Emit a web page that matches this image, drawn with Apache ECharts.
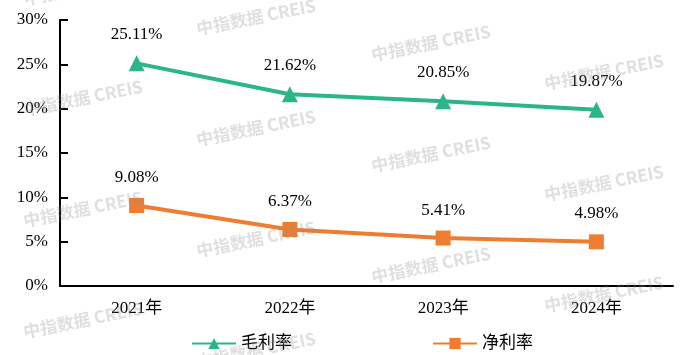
<!DOCTYPE html>
<html>
<head>
<meta charset="utf-8">
<script src="https://cdn.jsdelivr.net/npm/echarts@6/dist/echarts.min.js"></script>
<style>
  html, body { margin: 0; padding: 0; background: #fff; }
  #main { width: 682px; height: 355px; }
</style>
</head>
<body>
<div id="main"></div>
<script>
var years = ["2021年", "2022年", "2023年", "2024年"];
var grossMargin = [25.11, 21.62, 20.85, 19.87];
var netMargin = [9.08, 6.37, 5.41, 4.98];

var serif = "'Liberation Serif', 'Times New Roman', 'Noto Sans CJK SC', serif";

// 水印 中指数据 CREIS
var marks = [];
var colX = [83, 256, 431, 604];
var colY0 = [-13, 17, 43, 72];
for (var c = 0; c < colX.length; c++) {
  for (var r = 0; r < 4; r++) {
    marks.push({
      type: "text",
      x: colX[c],
      y: colY0[c] + r * 111,
      rotation: 0.2,
      z: 100,
      silent: true,
      style: {
        text: "中指数据 CREIS",
        font: "bold 17px 'Noto Sans CJK SC', sans-serif",
        fill: "rgba(140,140,140,0.28)",
        align: "center",
        verticalAlign: "middle"
      }
    });
  }
}

var myChart = echarts.init(document.getElementById("main"));
var option = {
  animation: false,
  grid: { left: 60, right: 9, top: 20, bottom: 69 },
  legend: {
    left: 186,
    top: 330,
    itemWidth: 44,
    itemHeight: 14,
    itemGap: 140,
    textStyle: { fontFamily: serif, fontSize: 17, color: "#000" },
    data: ["毛利率", "净利率"]
  },
  xAxis: {
    type: "category",
    data: years,
    axisLine: { lineStyle: { color: "#000", width: 2 } },
    axisTick: { inside: true, length: 6, lineStyle: { color: "#000", width: 2 } },
    axisLabel: { margin: 14, fontFamily: serif, fontSize: 17, color: "#000" }
  },
  yAxis: {
    type: "value",
    min: 0,
    max: 30,
    interval: 5,
    splitLine: { show: false },
    axisLine: { show: true, lineStyle: { color: "#000", width: 2 } },
    axisTick: { show: true, inside: true, length: 8, lineStyle: { color: "#000", width: 2 } },
    axisLabel: { margin: 12, fontFamily: serif, fontSize: 17, color: "#000", formatter: "{value}%" }
  },
  series: [
    {
      name: "毛利率",
      type: "line",
      data: grossMargin,
      symbol: "triangle",
      symbolSize: 16,
      color: "#2bb58a",
      lineStyle: { width: 4 },
      label: {
        show: true, position: "top", distance: 12,
        fontFamily: serif, fontSize: 17, color: "#000",
        formatter: function (p) { return p.value.toFixed(2) + "%"; }
      }
    },
    {
      name: "净利率",
      type: "line",
      data: netMargin,
      symbol: "rect",
      symbolSize: 15,
      color: "#ed7d31",
      lineStyle: { width: 4 },
      label: {
        show: true, position: "top", distance: 12,
        fontFamily: serif, fontSize: 17, color: "#000",
        formatter: function (p) { return p.value.toFixed(2) + "%"; }
      }
    }
  ],
  graphic: marks
};
myChart.setOption(option);
</script>
</body>
</html>
